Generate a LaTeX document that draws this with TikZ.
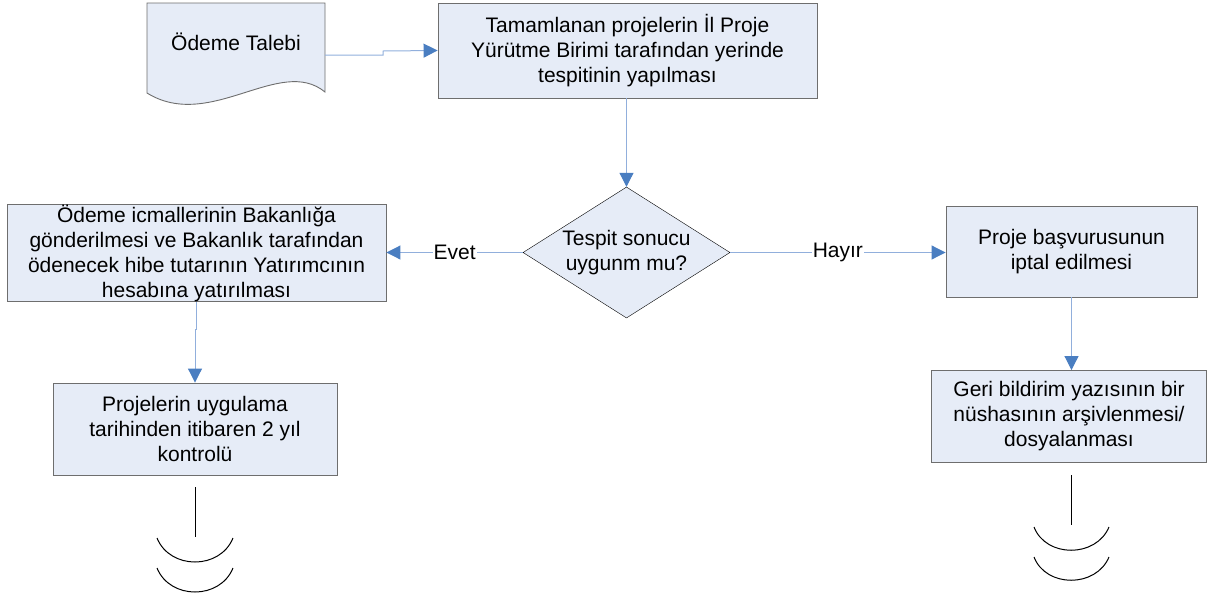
\documentclass[tikz,border=0pt]{standalone}
\usepackage{fontspec}
\setmainfont{Liberation Sans}
\usetikzlibrary{arrows.meta,shapes.geometric}
\definecolor{kutudolgu}{RGB}{230,236,247}
\definecolor{kutucizgi}{RGB}{110,110,110}
\definecolor{okcizgi}{RGB}{145,175,220}
\definecolor{okucu}{RGB}{74,126,193}
\begin{document}
\begin{tikzpicture}[x=1pt,y=-1pt,
  every node/.style={font=\fontsize{21}{25}\selectfont},
  kutu/.style={draw=kutucizgi,fill=kutudolgu,line width=0.9pt,align=center,inner sep=0pt},
  karar/.style={draw,fill=kutudolgu,shape=diamond,aspect=1.6,inner sep=0pt,align=center,
    minimum width=207pt,minimum height=131pt},
  ok/.style={draw=okcizgi,line width=1pt,-{Triangle[length=14pt,width=14pt,color=okucu]}},
  etiket/.style={fill=white,inner sep=1pt},
  devam/.style={line width=1pt}]
  \useasboundingbox (0,0) rectangle (1207,600);
  \draw[draw=kutucizgi,fill=kutudolgu,line width=0.9pt] (147,3) -- (325,3) -- (325,92)
    .. controls (280,55) and (210,132) .. (147,93) -- cycle;
  \node[minimum width=178pt,minimum height=90pt,inner sep=0pt] (talep) at (236,42) {Ödeme Talebi};
  \coordinate (talepcikis) at (325,55);
  \node[kutu,minimum width=379pt,minimum height=95pt] (tespit) at (627.5,50.5)
    {Tamamlanan projelerin İl Proje\\Yürütme Birimi tarafından yerinde\\tespitinin yapılması};
  \node[karar] (karar) at (626.5,252.5) {Tespit sonucu\\uygunm mu?};
  \node[kutu,minimum width=379pt,minimum height=94pt] (odeme) at (196.5,253)
    {Ödeme icmallerinin Bakanlığa\\gönderilmesi ve Bakanlık tarafından\\ödenecek hibe tutarının Yatırımcının\\hesabına yatırılması};
  \node[kutu,minimum width=251pt,minimum height=91pt] (iptal) at (1071.5,251.5)
    {Proje başvurusunun\\iptal edilmesi};
  \node[kutu,minimum width=284pt,minimum height=92pt] (kontrol) at (195,429)
    {Projelerin uygulama\\tarihinden itibaren 2 yıl\\kontrolü};
  \node[kutu,minimum width=275pt,minimum height=92pt] (arsiv) at (1069,416.5)
    {Geri bildirim yazısının bir\\nüshasının arşivlenmesi/\\dosyalanması};

  \draw[ok] (talepcikis) -- (383,55) -- (383,51) -- (tespit.west);
  \draw[ok] (karar.north |- tespit.south) -- (karar.north);
  \draw[ok] (karar.west) -- node[etiket] {Evet} (karar.west -| odeme.east);
  \draw[ok] (karar.east) -- node[etiket] {Hayır} (karar.east -| iptal.west);
  \draw[ok] (odeme.south) -- ++(0,28) -| (kontrol.north);
  \draw[ok] (iptal.south) -- (iptal.south |- arsiv.north);

  \coordinate (sol1) at (195,487);
  \coordinate (sol2) at (195,537);
  \draw[devam] (sol1) -- (sol2);
  \draw[devam] (157,538) .. controls (170,570) and (220,570) .. (233,538);
  \draw[devam] (157,568) .. controls (170,600) and (220,600) .. (233,568);
  \coordinate (sag1) at (1071,475);
  \coordinate (sag2) at (1071,525);
  \draw[devam] (sag1) -- (sag2);
  \draw[devam] (1034,527) .. controls (1046,558) and (1096,558) .. (1109,527);
  \draw[devam] (1034,557) .. controls (1046,588) and (1096,588) .. (1109,557);
\end{tikzpicture}
\end{document}
